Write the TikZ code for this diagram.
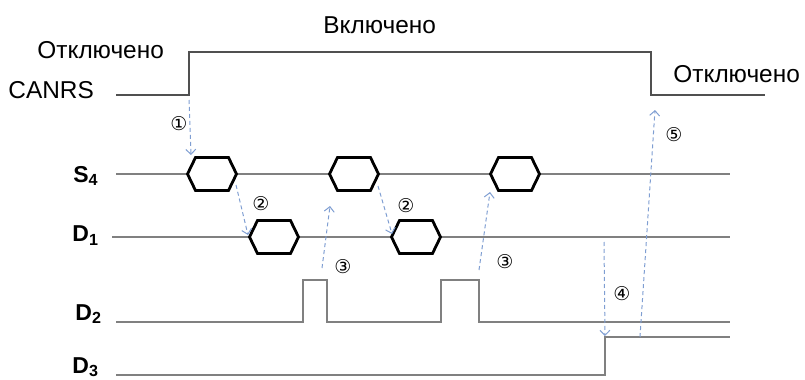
\documentclass[tikz,border=0pt]{standalone}
\usepackage{fontspec}
\setmainfont{Liberation Sans}
\newfontfamily\circfont{DejaVu Sans}
\usetikzlibrary{arrows.meta}
\definecolor{cueblue}{HTML}{7F9ED2}
\definecolor{wavegray}{HTML}{808080}
\definecolor{ctrlgray}{HTML}{505050}

\begin{document}
\begin{tikzpicture}[x=0.5pt,y=-0.5pt,line cap=butt,line join=miter,
  wave/.style={draw=wavegray, line width=0.8pt},
  hexbox/.style={draw=black, fill=white, line width=1.4pt},
  cue/.style={draw=cueblue, dash pattern=on 2pt off 1.5pt, line width=0.5pt,
    -{Straight Barb[length=2.5pt,width=5pt]}},
  tag/.style={font=\circfont\fontsize{9.5}{10}\selectfont, inner sep=0pt},
  state/.style={font=\fontsize{12.2}{14}\selectfont, anchor=base west, inner sep=0pt},
  sig/.style={font=\bfseries\fontsize{11.5}{13}\selectfont, anchor=base west, inner sep=0pt}]
  \useasboundingbox (0,0) rectangle (805,380);

  % Labels of the states and signals
  \node[state] (on)    at (323,33) {Включено};
  \node[state] (offL)  at (37,59)  {Отключено};
  \node[state] (offR)  at (673,83) {Отключено};
  \node[state] (canrs) at (8,98)   {CANRS};
  \node[sig] (s4) at (73,182) {S\textsubscript{4}};
  \node[sig] (d1) at (72,242) {D\textsubscript{1}};
  \node[sig] (d2) at (75,320) {D\textsubscript{2}};
  \node[sig] (d3) at (72,373) {D\textsubscript{3}};

  % Waveforms
  \draw[wave, draw=ctrlgray] (116,95) -- (189,95) -- (189,52) -- (651,52) -- (651,95) -- (765,95);
  \draw[wave] (116,174) -- (730,174);
  \draw[wave] (112,237) -- (730,237);
  \draw[wave] (116,322) -- (303,322) -- (303,280) -- (327,280) -- (327,322)
    -- (441,322) -- (441,280) -- (479,280) -- (479,322) -- (730,322);
  \draw[wave] (116,375) -- (605,375) -- (605,337) -- (730,337);

  % Data frames
  \foreach \cx/\cy in {212/174, 354/174, 515/174, 274/237, 416/237}
    \draw[hexbox] (\cx-24.5,\cy) -- ++(8,-16.5) -- ++(33,0) -- ++(8,16.5)
      -- ++(-8,16.5) -- ++(-33,0) -- cycle;

  % Ends of the cues
  \coordinate (c1a) at (189,100); \coordinate (c1b) at (191,155);
  \coordinate (c2a) at (236,185); \coordinate (c2b) at (248,235);
  \coordinate (c3a) at (322,268); \coordinate (c3b) at (330,206);
  \coordinate (c4a) at (378,186); \coordinate (c4b) at (392,234);
  \coordinate (c5a) at (479,270); \coordinate (c5b) at (490,192);
  \coordinate (c6a) at (604,242); \coordinate (c6b) at (605,336);
  \coordinate (c7a) at (640,337); \coordinate (c7b) at (655,110);

  \draw[cue] (c1a) -- (c1b);
  \draw[cue] (c2a) -- (c2b);
  \draw[cue] (c3a) -- (c3b);
  \draw[cue] (c4a) -- (c4b);
  \draw[cue] (c5a) -- (c5b);
  \draw[cue] (c6a) -- (c6b);
  \draw[cue] (c7a) -- (c7b);

  % Step numbers
  \node[tag] (n1)  at (179,124) {①};
  \node[tag] (n2a) at (261,204) {②};
  \node[tag] (n3a) at (343,267) {③};
  \node[tag] (n2b) at (406,206) {②};
  \node[tag] (n3b) at (505,262) {③};
  \node[tag] (n4)  at (622,294) {④};
  \node[tag] (n5)  at (674,135) {⑤};
\end{tikzpicture}
\end{document}
